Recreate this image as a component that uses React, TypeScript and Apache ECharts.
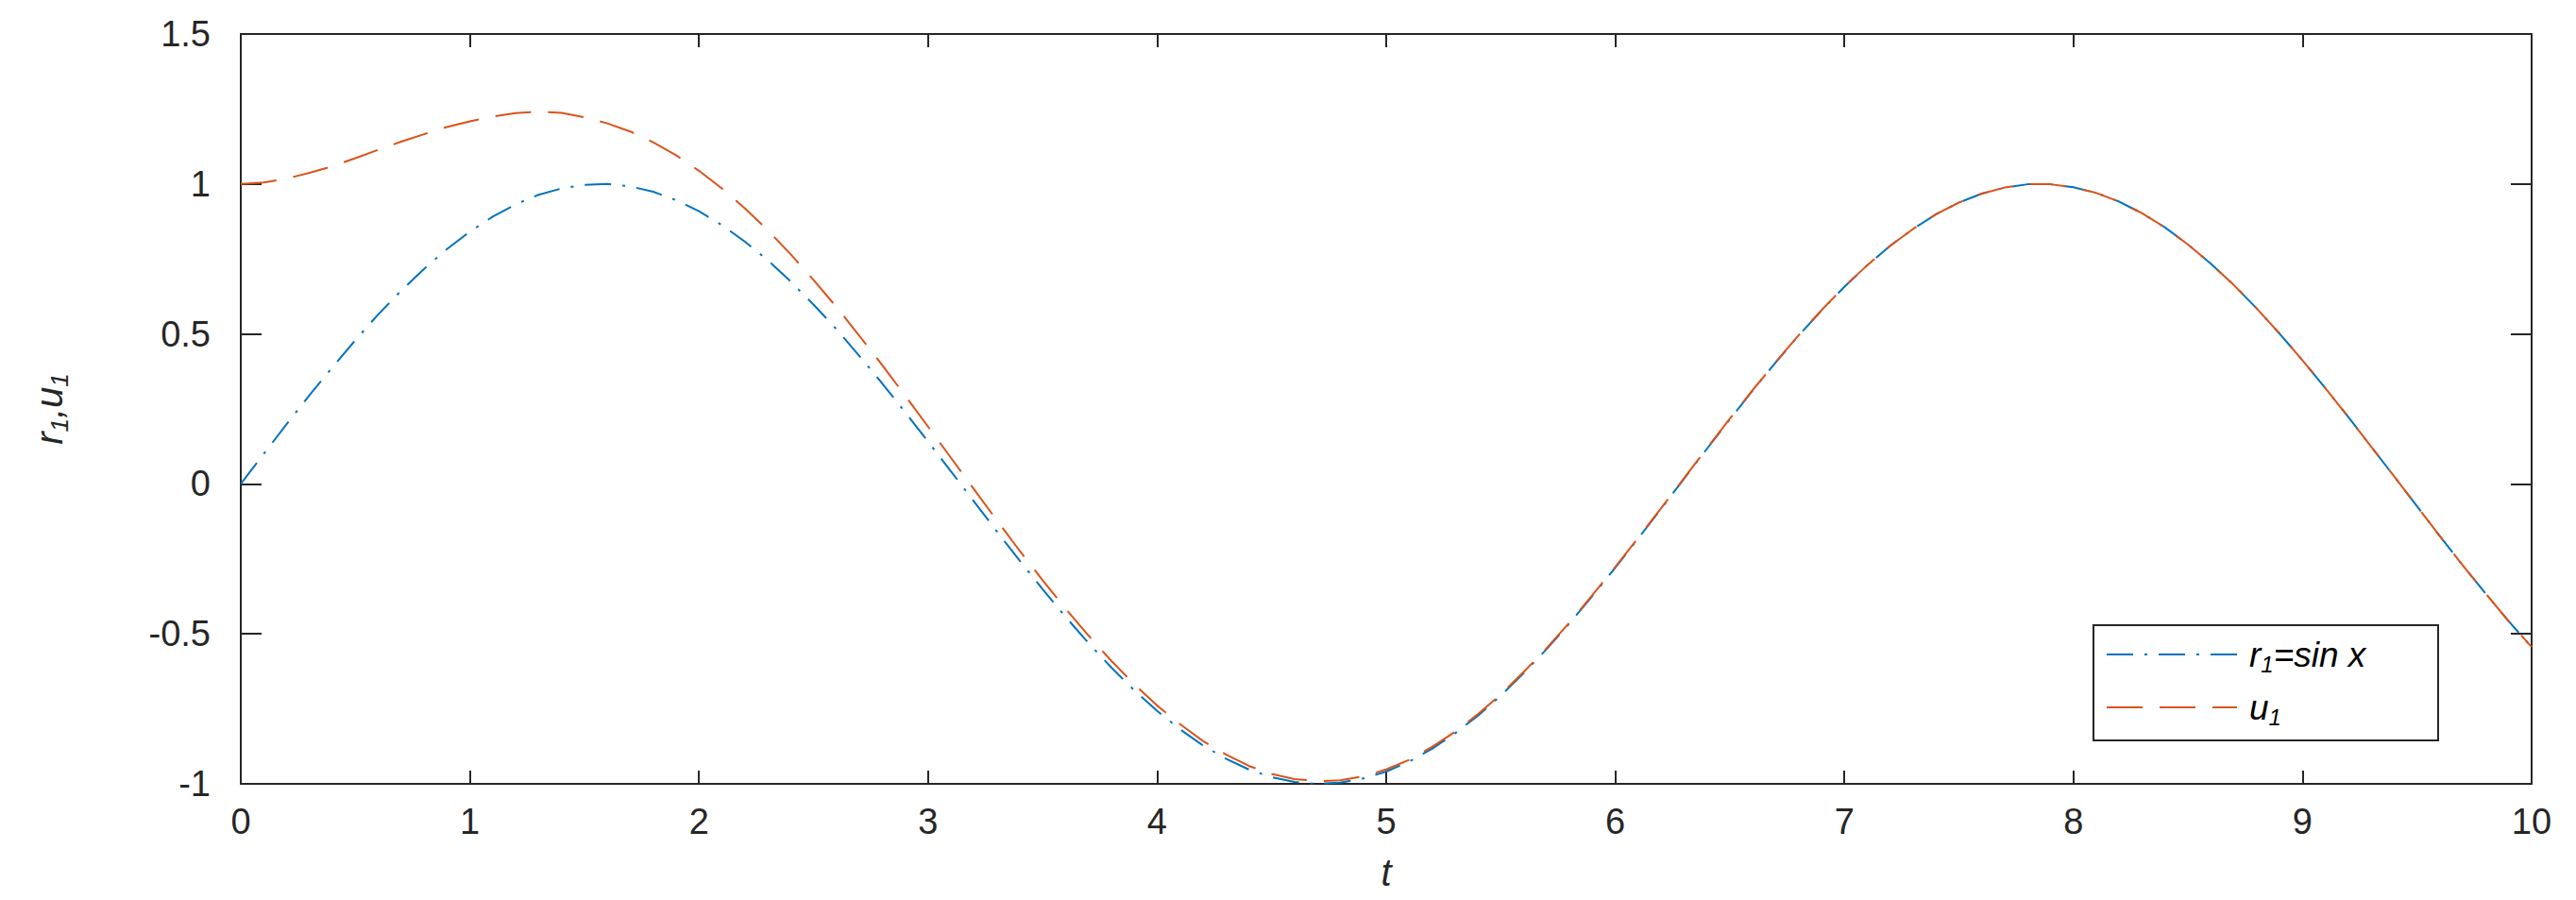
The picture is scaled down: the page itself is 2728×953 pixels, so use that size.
import React, { useEffect, useRef } from 'react';
import * as echarts from 'echarts';

// time samples (t), step 0.1 from 0 to 10
const tValues = [
  0, 0.1, 0.2, 0.3, 0.4, 0.5, 0.6, 0.7, 0.8, 0.9,
  1, 1.1, 1.2, 1.3, 1.4, 1.5, 1.6, 1.7, 1.8, 1.9,
  2, 2.1, 2.2, 2.3, 2.4, 2.5, 2.6, 2.7, 2.8, 2.9,
  3, 3.1, 3.2, 3.3, 3.4, 3.5, 3.6, 3.7, 3.8, 3.9,
  4, 4.1, 4.2, 4.3, 4.4, 4.5, 4.6, 4.7, 4.8, 4.9,
  5, 5.1, 5.2, 5.3, 5.4, 5.5, 5.6, 5.7, 5.8, 5.9,
  6, 6.1, 6.2, 6.3, 6.4, 6.5, 6.6, 6.7, 6.8, 6.9,
  7, 7.1, 7.2, 7.3, 7.4, 7.5, 7.6, 7.7, 7.8, 7.9,
  8, 8.1, 8.2, 8.3, 8.4, 8.5, 8.6, 8.7, 8.8, 8.9,
  9, 9.1, 9.2, 9.3, 9.4, 9.5, 9.6, 9.7, 9.8, 9.9,
  10,
];

// r1 = sin x (blue, dash-dot)
const r1Values = [
  0, 0.1, 0.199, 0.296, 0.389, 0.479, 0.565, 0.644, 0.717, 0.783,
  0.841, 0.891, 0.932, 0.964, 0.985, 0.997, 1.0, 0.992, 0.974, 0.946,
  0.909, 0.863, 0.808, 0.746, 0.675, 0.598, 0.516, 0.427, 0.335, 0.239,
  0.141, 0.042, -0.058, -0.158, -0.256, -0.351, -0.443, -0.53, -0.612, -0.688,
  -0.757, -0.818, -0.872, -0.916, -0.952, -0.978, -0.994, -1.0, -0.996, -0.982,
  -0.959, -0.926, -0.883, -0.832, -0.773, -0.706, -0.631, -0.551, -0.465, -0.374,
  -0.279, -0.182, -0.083, 0.017, 0.117, 0.215, 0.312, 0.405, 0.494, 0.578,
  0.657, 0.729, 0.794, 0.85, 0.899, 0.938, 0.968, 0.988, 0.999, 0.999,
  0.989, 0.97, 0.941, 0.902, 0.855, 0.798, 0.734, 0.663, 0.585, 0.501,
  0.412, 0.319, 0.223, 0.124, 0.025, -0.075, -0.175, -0.272, -0.366, -0.458,
  -0.544,
];

// u1 (orange, dashed)
const u1Values = [
  1.0, 1.005, 1.018, 1.037, 1.059, 1.086, 1.114, 1.141, 1.166, 1.19,
  1.209, 1.225, 1.236, 1.241, 1.237, 1.222, 1.202, 1.175, 1.139, 1.096,
  1.044, 0.985, 0.919, 0.846, 0.766, 0.68, 0.59, 0.494, 0.396, 0.294,
  0.191, 0.087, -0.017, -0.121, -0.223, -0.321, -0.416, -0.505, -0.59, -0.668,
  -0.739, -0.801, -0.857, -0.902, -0.94, -0.967, -0.984, -0.991, -0.988, -0.975,
  -0.952, -0.92, -0.877, -0.827, -0.768, -0.702, -0.627, -0.548, -0.462, -0.371,
  -0.277, -0.18, -0.081, 0.019, 0.119, 0.217, 0.313, 0.406, 0.495, 0.579,
  0.658, 0.729, 0.794, 0.85, 0.899, 0.938, 0.968, 0.988, 0.999, 0.999,
  0.989, 0.97, 0.941, 0.902, 0.855, 0.798, 0.734, 0.663, 0.585, 0.501,
  0.412, 0.319, 0.223, 0.124, 0.025, -0.075, -0.175, -0.272, -0.366, -0.458,
  -0.544,
];

const seriesNames = ['r1', 'u1'];
const seriesColors = ['#0072BD', '#D95319'];

export default function App() {
  const ref = useRef<HTMLDivElement>(null);

  useEffect(() => {
    const chart = echarts.init(ref.current!, null, { renderer: 'svg' });
    const axisColor = '#262626';
    const font = "'Liberation Sans', Arial, Helvetica, sans-serif";

    const richLegend = {
      i: { fontFamily: font, fontStyle: 'italic', fontSize: 37, color: '#000', lineHeight: 46 },
      s: { fontFamily: font, fontStyle: 'italic', fontSize: 24, color: '#000', lineHeight: 26, padding: [20, 0, 0, 0] },
    };
    const richName = {
      i: { fontFamily: font, fontStyle: 'italic', fontSize: 40, color: '#262626', lineHeight: 50 },
      s: { fontFamily: font, fontStyle: 'italic', fontSize: 26, color: '#262626', lineHeight: 28, padding: [22, 0, 0, 0] },
    };

    const legendLabels: Record<string, string> = {
      r1: '{i|r}{s|1}{i|=sin x}',
      u1: '{i|u}{s|1}',
    };

    const pairs = (vals: number[]) => tValues.map((t, i) => [t, vals[i]]);

    const labelStyle = { fontFamily: font, fontSize: 38, color: axisColor };

    chart.setOption({
      animation: false,
      backgroundColor: '#ffffff',
      grid: { left: 255, right: 47, top: 36, bottom: 123, containLabel: false },
      xAxis: [
        {
          type: 'value', min: 0, max: 10, interval: 1, position: 'bottom',
          name: 't', nameLocation: 'middle', nameGap: 74,
          nameTextStyle: { fontFamily: font, fontStyle: 'italic', fontSize: 40, color: axisColor },
          axisLine: { show: true, onZero: false, lineStyle: { color: axisColor, width: 2 } },
          axisTick: { show: true, inside: true, length: 14, lineStyle: { color: axisColor, width: 2 } },
          axisLabel: { ...labelStyle, margin: 21 },
          splitLine: { show: false },
        },
        {
          type: 'value', min: 0, max: 10, interval: 1, position: 'top',
          axisLine: { show: true, onZero: false, lineStyle: { color: axisColor, width: 2 } },
          axisTick: { show: true, inside: true, length: 14, lineStyle: { color: axisColor, width: 2 } },
          axisLabel: { show: false },
          splitLine: { show: false },
        },
      ],
      yAxis: [
        {
          type: 'value', min: -1, max: 1.5, interval: 0.5, position: 'left',
          name: '{i|r}{s|1}{i|,u}{s|1}', nameLocation: 'middle', nameGap: 178, nameRotate: 90,
          nameTextStyle: { rich: richName },
          axisLine: { show: true, onZero: false, lineStyle: { color: axisColor, width: 2 } },
          axisTick: { show: true, inside: true, length: 22, lineStyle: { color: axisColor, width: 2 } },
          axisLabel: { ...labelStyle, margin: 32 },
          splitLine: { show: false },
        },
        {
          type: 'value', min: -1, max: 1.5, interval: 0.5, position: 'right',
          axisLine: { show: true, onZero: false, lineStyle: { color: axisColor, width: 2 } },
          axisTick: { show: true, inside: true, length: 22, lineStyle: { color: axisColor, width: 2 } },
          axisLabel: { show: false },
          splitLine: { show: false },
        },
      ],
      legend: {
        show: true,
        orient: 'vertical',
        left: 2230,
        top: 671,
        padding: 0,
        itemWidth: 138,
        itemHeight: 2,
        itemGap: 12,
        itemStyle: { opacity: 0 },
        data: seriesNames,
        formatter: (name: string) => legendLabels[name],
        textStyle: { rich: richLegend, padding: [0, 0, 0, 8] },
      },
      graphic: [
        {
          type: 'rect',
          shape: { x: 2217, y: 662, width: 365, height: 122 },
          style: { fill: 'none', stroke: axisColor, lineWidth: 2 },
          z: 10,
          silent: true,
        },
      ],
      series: [
        {
          name: seriesNames[0],
          type: 'line',
          xAxisIndex: 0,
          yAxisIndex: 0,
          data: pairs(r1Values),
          smooth: false,
          symbol: 'none',
          showSymbol: false,
          color: seriesColors[0],
          lineStyle: { color: seriesColors[0], width: 2, type: [28, 12, 3, 12] },
          z: 3,
        },
        {
          name: seriesNames[1],
          type: 'line',
          xAxisIndex: 0,
          yAxisIndex: 0,
          data: pairs(u1Values),
          smooth: false,
          symbol: 'none',
          showSymbol: false,
          color: seriesColors[1],
          lineStyle: { color: seriesColors[1], width: 2, type: [38, 18] },
          z: 4,
        },
      ],
    });

    return () => {
      chart.dispose();
    };
  }, []);

  return (
    <div
      ref={ref}
      style={{ position: 'fixed', left: 0, top: 0, width: 2728, height: 953, background: '#fff' }}
    />
  );
}
